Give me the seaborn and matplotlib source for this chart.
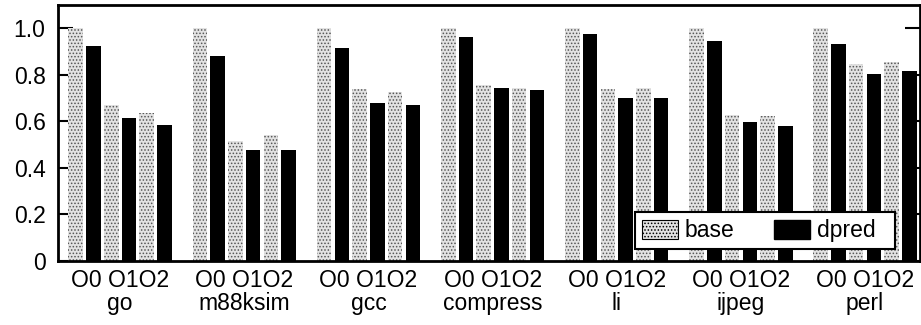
import pandas as pd
import matplotlib.pyplot as plt
import matplotlib.patches as mpatches
import seaborn as sns

sns.set_theme(style="ticks")
plt.rcParams['font.family'] = ['Liberation Sans', 'DejaVu Sans']
plt.rcParams['hatch.color'] = '#555555'
plt.rcParams['hatch.linewidth'] = 0.7
for k in ['text.color', 'axes.labelcolor', 'xtick.color', 'ytick.color', 'axes.edgecolor']:
    plt.rcParams[k] = 'black'

# data
benchmarks = ['go', 'm88ksim', 'gcc', 'compress', 'li', 'ijpeg', 'perl']
levels = ['O0', 'O1', 'O2']
base = [
    [1.0, 0.668, 0.634],
    [1.0, 0.517, 0.539],
    [1.0, 0.737, 0.724],
    [1.0, 0.757, 0.745],
    [1.0, 0.737, 0.741],
    [1.0, 0.628, 0.621],
    [1.0, 0.847, 0.853],
]
dpred = [
    [0.922, 0.616, 0.586],
    [0.881, 0.478, 0.478],
    [0.913, 0.677, 0.668],
    [0.964, 0.741, 0.733],
    [0.977, 0.698, 0.698],
    [0.946, 0.596, 0.578],
    [0.934, 0.803, 0.815],
]
yticks = [0, 0.2, 0.4, 0.6, 0.8, 1.0]
ytick_labels = ['0', '0.2', '0.4', '0.6', '0.8', '1.0']

# build long table, one slot per bar, 7 slots per benchmark
rows = []
for i, b in enumerate(benchmarks):
    for j, lv in enumerate(levels):
        rows.append({'pos': i * 7 + 2 * j, 'value': base[i][j], 'series': 'base'})
        rows.append({'pos': i * 7 + 2 * j + 1, 'value': dpred[i][j], 'series': 'dpred'})
df = pd.DataFrame(rows)

fig = plt.figure(figsize=(9.21, 3.25), dpi=100)
ax = fig.add_axes([0.063, 0.197, 0.936, 0.788])

base_col = '#e2e2e2'
sns.barplot(data=df, x='pos', y='value', hue='series', native_scale=True,
            dodge=False, width=0.82, palette={'base': base_col, 'dpred': 'black'},
            linewidth=0, legend=False, ax=ax)

# stipple the base bars
for p in ax.patches:
    r, g, bb, _ = p.get_facecolor()
    if r > 0.5:
        p.set_hatch('.....')
        p.set_edgecolor('#555555')
        p.set_linewidth(0)

ax.set_xlim(-1.0, 47.6)
ax.set_ylim(0, 1.1)
ax.set_xlabel('')
ax.set_ylabel('')

ax.set_xticks([i * 7 + 2.5 for i in range(len(benchmarks))])
ax.set_xticklabels(['O0 O1O2\n' + b for b in benchmarks], fontsize=16.5, linespacing=1.0)
ax.set_yticks(yticks)
ax.set_yticklabels(ytick_labels, fontsize=16.5)
ax.tick_params(axis='x', length=0, pad=6)
ax.tick_params(axis='y', direction='in', length=11, width=1.5, left=True, right=True, pad=9)

for s in ax.spines.values():
    s.set_visible(True)
    s.set_color('black')
    s.set_linewidth(2)

handles = [mpatches.Patch(facecolor=base_col, edgecolor='black', linewidth=0.8, hatch='.....', label='base'),
           mpatches.Patch(facecolor='black', edgecolor='black', label='dpred  ')]
leg = ax.legend(handles=handles, ncol=2, loc='lower right', bbox_to_anchor=(0.971, 0.047),
                fontsize=16.5, frameon=True, fancybox=False, edgecolor='black', framealpha=1,
                handlelength=1.55, handleheight=0.9, columnspacing=1.75, borderpad=0.3,
                handletextpad=0.3, borderaxespad=0)
leg.get_frame().set_linewidth(1.5)

fig.savefig('out.png', dpi=100)
